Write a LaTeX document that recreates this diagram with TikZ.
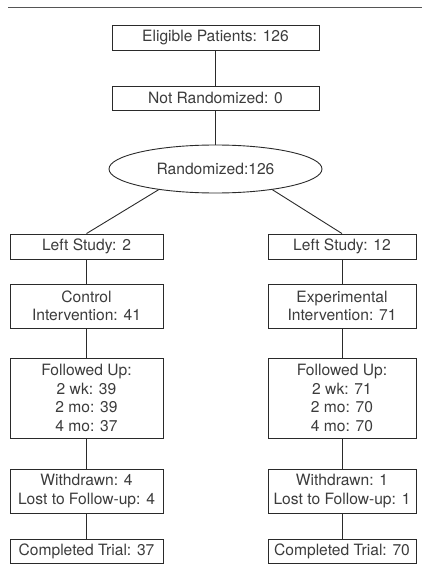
\documentclass[tikz,border=0pt]{standalone}
\usepackage{fontspec}
\setmainfont{TeX Gyre Heros}
\usetikzlibrary{shapes.geometric}
\definecolor{txt}{HTML}{3C3C3C}
\definecolor{ln}{HTML}{2A2A2A}
\tikzset{
  box/.style={draw=ln, line width=0.9pt, fill=white, rectangle, inner sep=0pt, align=center,
    text=txt, font=\fontsize{15.6}{18.5}\selectfont},
  oval/.style={draw=ln, line width=0.9pt, fill=white, ellipse, inner sep=0pt, align=center,
    text=txt, font=\fontsize{15.6}{18.5}\selectfont},
  conn/.style={draw=ln, line width=0.9pt}
}
\begin{document}
\begin{tikzpicture}[x=1pt,y=-1pt]
\useasboundingbox (0,0) rectangle (422,567);
\draw[draw=ln!80, line width=1pt] (8,8) -- (422,8);
\node[box, minimum width=207, minimum height=25] (elig) at (215.5,37.5) {Eligible Patients: 126};
\node[box, minimum width=207, minimum height=24] (notr) at (215.5,98) {Not Randomized: 0};
\node[oval, minimum width=213, minimum height=48] (rand) at (215.5,169) {Randomized:126};
% left column
\node[box, minimum width=153, minimum height=25] (lsl) at (86.5,246.5) {Left Study: 2};
\node[box, minimum width=153, minimum height=44] (ctl) at (86.5,306) {Control\\Intervention: 41};
\node[box, minimum width=153, minimum height=80] (ful) at (86.5,398) {Followed Up:\\2 wk: 39\\2 mo: 39\\4 mo: 37};
\node[box, minimum width=153, minimum height=44] (wdl) at (86.5,491) {Withdrawn: 4\\Lost to Follow-up: 4};
\node[box, minimum width=153, minimum height=24] (cpl) at (86.5,551) {Completed Trial: 37};
% right column
\node[box, minimum width=148, minimum height=25] (lsr) at (342,246.5) {Left Study: 12};
\node[box, minimum width=148, minimum height=44] (exp) at (342,306) {Experimental\\Intervention: 71};
\node[box, minimum width=148, minimum height=80] (fur) at (342,398) {Followed Up:\\2 wk: 71\\2 mo: 70\\4 mo: 70};
\node[box, minimum width=148, minimum height=44] (wdr) at (342,491) {Withdrawn: 1\\Lost to Follow-up: 1};
\node[box, minimum width=148, minimum height=24] (cpr) at (342,551) {Completed Trial: 70};
% connectors
\draw[conn] (elig) -- (notr);
\draw[conn] (notr) -- (rand);
\draw[conn] (rand.200) -- (lsl.north);
\draw[conn] (rand.340) -- (lsr.north);
\draw[conn] (lsl) -- (ctl);
\draw[conn] (ctl) -- (ful);
\draw[conn] (ful) -- (wdl);
\draw[conn] (wdl) -- (cpl);
\draw[conn] (lsr) -- (exp);
\draw[conn] (exp) -- (fur);
\draw[conn] (fur) -- (wdr);
\draw[conn] (wdr) -- (cpr);
\end{tikzpicture}
\end{document}
